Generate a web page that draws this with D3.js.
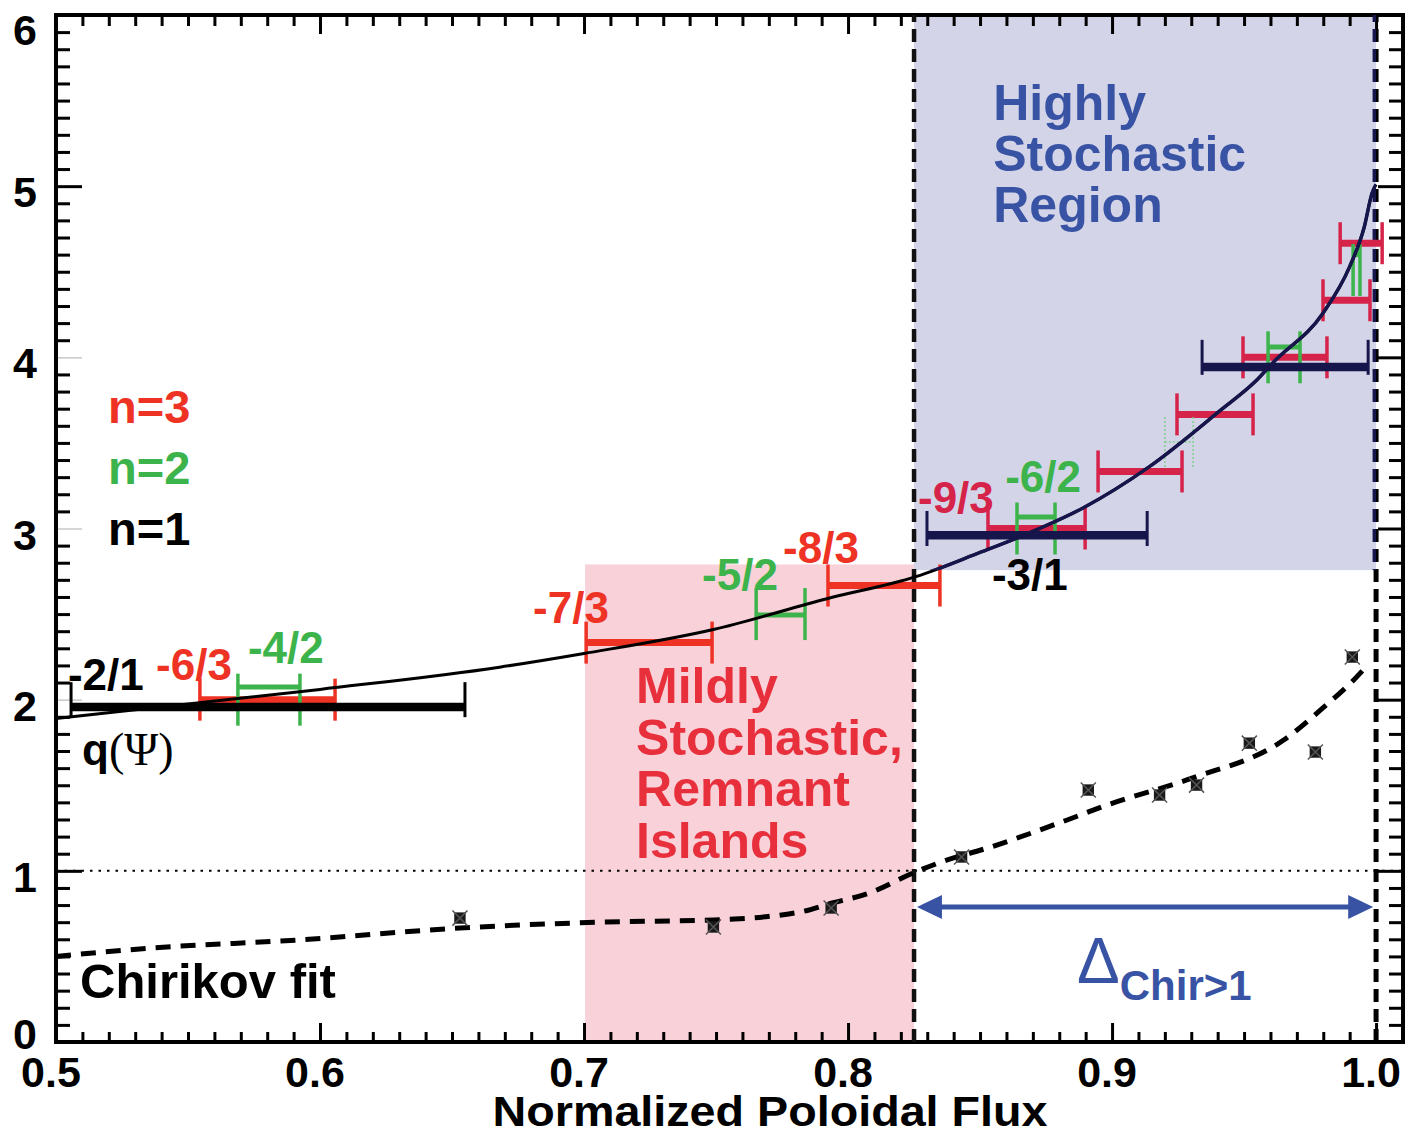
<!DOCTYPE html>
<html>
<head>
<meta charset="utf-8">
<script src="https://cdn.jsdelivr.net/npm/d3@7"></script>
<style>
  body { margin: 0; background: #fff; }
  svg { display: block; }
</style>
</head>
<body>
<svg id="chart" width="1412" height="1134"></svg>
<script>
// safety factor profile q(psi)
const qPsi = [0.50, 0.60, 0.668, 0.70, 0.749, 0.792, 0.826, 0.85, 0.868, 0.889, 0.914, 0.941, 0.955, 0.961, 0.98, 0.99, 0.9955, 0.9985, 1.0];
const qVal = [1.89, 2.06, 2.19, 2.27, 2.41, 2.59, 2.72, 2.86, 2.97, 3.12, 3.36, 3.69, 3.87, 3.97, 4.26, 4.53, 4.76, 4.96, 5.01];

// Chirikov parameter: computed points and dashed fit
const chirPsi = [0.653, 0.749, 0.7936, 0.843, 0.891, 0.918, 0.932, 0.952, 0.977, 0.991];
const chirVal = [0.724, 0.672, 0.783, 1.081, 1.472, 1.443, 1.501, 1.746, 1.694, 2.249];
const fitPsi = [0.50, 0.536, 0.592, 0.653, 0.706, 0.749, 0.782, 0.794, 0.808, 0.8246, 0.835, 0.854, 0.883, 0.898, 0.93, 0.965, 0.979, 0.994, 0.9966];
const fitVal = [0.50, 0.549, 0.596, 0.666, 0.70, 0.713, 0.76, 0.812, 0.87, 0.987, 1.05, 1.139, 1.297, 1.384, 1.54, 1.764, 1.94, 2.155, 2.20];

// island widths of resonant surfaces, n = 1
const n1Label = ["-2/1", "-3/1", "-4/1"];
const n1Q = [2, 3, 4];
const n1Bar = [1.957, 2.961, 3.943];
const n1Lo = [0.5057, 0.8299, 0.9341];
const n1Hi = [0.6549, 0.9133, 0.9970];

// n = 2
const n2Label = ["-4/2", "-5/2", "-6/2", "-7/2", "-8/2", "-9/2"];
const n2Q = [2.0, 2.5, 3.0, 3.5, 4.0, 4.51];
const n2Bar = [2.074, 2.494, 3.067, 3.505, 4.06, 4.60];
const n2Lo = [0.5689, 0.7652, 0.864, 0.920, 0.9591, 0.9913];
const n2Hi = [0.5924, 0.7837, 0.8784, 0.9307, 0.9712, 0.9939];

// n = 3
const n3Label = ["-6/3", "-7/3", "-8/3", "-9/3", "-10/3", "-11/3", "-12/3", "-13/3", "-14/3"];
const n3Q = [6/3, 7/3, 8/3, 9/3, 10/3, 11/3, 12/3, 13/3, 14/3];
const n3Lo = [0.5545, 0.7008, 0.7924, 0.853, 0.8947, 0.9246, 0.9496, 0.9799, 0.9864];
const n3Hi = [0.6057, 0.7485, 0.8348, 0.8898, 0.9265, 0.9534, 0.9814, 0.9977, 1.0023];

// where the mode labels sit (psi, q of the text baseline start)
const tagText = ["-2/1", "-6/3", "-4/2", "-7/3", "-5/2", "-8/3", "-9/3", "-6/2", "-3/1"];
const tagPsi = [0.5045, 0.5379, 0.5727, 0.6807, 0.7447, 0.7754, 0.8265, 0.8595, 0.8545];
const tagQ = [2.056, 2.114, 2.214, 2.447, 2.640, 2.798, 3.090, 3.213, 2.640];
const tagN = [1, 3, 2, 3, 2, 3, 3, 2, 1];

// regions
const mildRegion = [0.7004, 0.825, 0, 2.79];
const highRegion = [0.825, 1.0, 2.757, 6];
const arrowSpan = [0.8261, 0.9989, 0.789];

const xTicks = [0.5, 0.6, 0.7, 0.8, 0.9, 1.0];
const xTickLabels = ["0.5", "0.6", "0.7", "0.8", "0.9", "1.0"];
const yTicks = [0, 1, 2, 3, 4, 5, 6];

const red = "#ee3224", crimson = "#d5234a", green = "#3cb44b", navy = "#16164c", blue = "#3953a4";
const font = "'Liberation Sans', Arial, Helvetica, sans-serif";

let svg = d3.select("#chart");

let x = d3.scaleLinear().domain([0.5, 1.0102]).range([56, 1403]);
let y = d3.scaleLinear().domain([0, 6]).range([1042, 15]);

// shaded regions
svg.append("rect")
  .attr("x", x(mildRegion[0]))
  .attr("y", y(mildRegion[3]))
  .attr("width", x(mildRegion[1]) - x(mildRegion[0]))
  .attr("height", y(mildRegion[2]) - y(mildRegion[3]))
  .style("fill", "#f8d1d9");
svg.append("rect")
  .attr("x", x(highRegion[0]))
  .attr("y", y(highRegion[3]))
  .attr("width", x(highRegion[1]) - x(highRegion[0]))
  .attr("height", y(highRegion[2]) - y(highRegion[3]))
  .style("fill", "#d4d4e9");
svg.append("clipPath").attr("id", "highclip")
  .append("rect")
  .attr("x", x(highRegion[0]))
  .attr("y", y(highRegion[3]))
  .attr("width", x(highRegion[1]) - x(highRegion[0]))
  .attr("height", y(highRegion[2]) - y(highRegion[3]));

// ticks (inward on all four sides)
let xMinor = d3.range(50, 102).map(d => d / 100).filter(d => Math.round(d * 100) % 10 != 0);
let yMinor = d3.range(0, 61).map(d => d / 10).filter(d => Math.round(d * 10) % 10 != 0);

function tickStyle(g) {
  g.select(".domain").remove();
  g.selectAll(".tick line").style("stroke", "#000").style("stroke-width", 3);
  g.selectAll(".tick text").remove();
}
svg.append("g").attr("transform", "translate(0," + y(0) + ")")
  .call(d3.axisBottom(x).tickValues(xMinor).tickSize(-10)).call(tickStyle);
svg.append("g").attr("transform", "translate(0," + y(0) + ")")
  .call(d3.axisBottom(x).tickValues(xTicks).tickSize(-19)).call(tickStyle);
svg.append("g").attr("transform", "translate(0," + y(6) + ")")
  .call(d3.axisTop(x).tickValues(xMinor).tickSize(-11)).call(tickStyle);
svg.append("g").attr("transform", "translate(0," + y(6) + ")")
  .call(d3.axisTop(x).tickValues(xTicks).tickSize(-19)).call(tickStyle);
svg.append("g").attr("transform", "translate(" + x(0.5) + ",0)")
  .call(d3.axisLeft(y).tickValues(yMinor).tickSize(-14)).call(tickStyle);
svg.append("g").attr("transform", "translate(" + x(0.5) + ",0)")
  .call(d3.axisLeft(y).tickValues(yTicks).tickSize(-26)).call(tickStyle)
  .selectAll(".tick line")
  .style("stroke", d => (d >= 2 && d <= 4) ? "#c8c8c8" : "#000")
  .style("stroke-width", d => (d >= 2 && d <= 4) ? 1.5 : 3);
svg.append("g").attr("transform", "translate(" + x(1.0102) + ",0)")
  .call(d3.axisRight(y).tickValues(yMinor).tickSize(-14)).call(tickStyle);
svg.append("g").attr("transform", "translate(" + x(1.0102) + ",0)")
  .call(d3.axisRight(y).tickValues(yTicks).tickSize(-25)).call(tickStyle);

// frame
svg.append("rect")
  .attr("x", x(0.5))
  .attr("y", y(6))
  .attr("width", x(1.0102) - x(0.5))
  .attr("height", y(0) - y(6))
  .style("fill", "none")
  .style("stroke", "#000")
  .style("stroke-width", 4);

// tick labels
svg.selectAll(".xlab")
  .data(xTicks)
  .enter()
  .append("text")
  .attr("x", d => x(d) - 5)
  .attr("y", 1087)
  .attr("text-anchor", "middle")
  .text((d, i) => xTickLabels[i])
  .style("font-family", font)
  .style("font-weight", "bold")
  .style("font-size", 43);
svg.selectAll(".ylab")
  .data(yTicks)
  .enter()
  .append("text")
  .attr("x", 25)
  .attr("y", d => d == 0 ? 1049 : d == 6 ? 45 : y(d) + 21)
  .attr("text-anchor", "middle")
  .text(d => d)
  .style("font-family", font)
  .style("font-weight", "bold")
  .style("font-size", 43);
svg.append("text")
  .attr("x", 770)
  .attr("y", 1126)
  .attr("text-anchor", "middle")
  .attr("textLength", 555)
  .attr("lengthAdjust", "spacingAndGlyphs")
  .text("Normalized Poloidal Flux")
  .style("font-family", font)
  .style("font-weight", "bold")
  .style("font-size", 42);

// chirikov = 1 reference
svg.append("line")
  .attr("x1", x(0.5)).attr("x2", x(1.0102))
  .attr("y1", y(1)).attr("y2", y(1))
  .style("stroke", "#000")
  .style("stroke-width", 2)
  .style("stroke-dasharray", "2.5,6");

// region boundaries
svg.append("line")
  .attr("x1", x(highRegion[0])).attr("x2", x(highRegion[0]))
  .attr("y1", y(0)).attr("y2", y(6))
  .style("stroke", "#111")
  .style("stroke-width", 4.5)
  .style("stroke-dasharray", "13,7");
svg.append("line")
  .attr("x1", x(highRegion[1])).attr("x2", x(highRegion[1]))
  .attr("y1", y(0)).attr("y2", y(6))
  .style("stroke", "#000")
  .style("stroke-width", 5)
  .style("stroke-dasharray", "13,7");
svg.append("line")
  .attr("x1", x(highRegion[1])).attr("x2", x(highRegion[1]))
  .attr("y1", y(0)).attr("y2", y(6))
  .attr("clip-path", "url(#highclip)")
  .style("stroke", navy)
  .style("stroke-width", 7)
  .style("stroke-dasharray", "13,7");

// chirikov fit and points
let fitLine = d3.line()
  .x(i => x(fitPsi[i]))
  .y(i => y(fitVal[i]))
  .curve(d3.curveMonotoneX);
svg.append("path")
  .attr("d", fitLine(d3.range(fitPsi.length)))
  .style("fill", "none")
  .style("stroke", "#000")
  .style("stroke-width", 5)
  .style("stroke-dasharray", "15,10");
let marks = svg.selectAll(".chir")
  .data(d3.range(chirPsi.length))
  .enter()
  .append("g")
  .attr("transform", i => "translate(" + x(chirPsi[i]) + "," + y(chirVal[i]) + ")");
marks.append("path")
  .attr("d", d3.symbol(d3.symbolSquare, 130))
  .style("fill", "#1a1a1a");
marks.append("path")
  .attr("d", d3.symbol(d3.symbolTimes, 150))
  .style("fill", "none")
  .style("stroke", "#555")
  .style("stroke-width", 1.5);

// island width bars
function inHigh(lo, q) {
  return lo >= highRegion[0] && q >= highRegion[2];
}
function drawBars(lo, hi, qCap, qBar, colour, alt, barW, capW, capH) {
  let g = svg.append("g");
  d3.range(lo.length).forEach(i => {
    let c = inHigh(lo[i], qCap[i]) ? alt : colour;
    let thin = (colour == green && Math.abs(qCap[i] - 3.5) < 0.01);
    g.append("line")
      .attr("x1", x(lo[i])).attr("x2", x(hi[i]))
      .attr("y1", y(qBar[i])).attr("y2", y(qBar[i]))
      .style("stroke", thin ? "#7fd08a" : c)
      .style("stroke-width", thin ? 1.5 : barW)
      .style("stroke-dasharray", thin ? "2,2" : null);
    [lo[i], hi[i]].forEach(v => {
      g.append("line")
        .attr("x1", x(v)).attr("x2", x(v))
        .attr("y1", y(qCap[i]) - capH).attr("y2", y(qCap[i]) + capH)
        .style("stroke", thin ? "#7fd08a" : c)
        .style("stroke-width", thin ? 1.5 : capW)
        .style("stroke-dasharray", thin ? "2,2" : null);
    });
  });
}
drawBars(n3Lo, n3Hi, n3Q, n3Q, red, crimson, 7, 3.5, 21);
drawBars(n2Lo, n2Hi, n2Q, n2Bar, green, green, 5, 3.5, 26);
drawBars(n1Lo, n1Hi, n1Q, n1Bar, "#000", navy, 8.5, 3, 17.5);

// q profile
let qLine = d3.line()
  .x(i => x(qPsi[i]))
  .y(i => y(qVal[i]))
  .curve(d3.curveMonotoneX);
svg.append("path")
  .attr("d", qLine(d3.range(qPsi.length)))
  .style("fill", "none")
  .style("stroke", "#000")
  .style("stroke-width", 3);
svg.append("path")
  .attr("d", qLine(d3.range(qPsi.length)))
  .attr("clip-path", "url(#highclip)")
  .style("fill", "none")
  .style("stroke", navy)
  .style("stroke-width", 3.5);

// mode labels
svg.selectAll(".tag")
  .data(d3.range(tagText.length))
  .enter()
  .append("text")
  .attr("x", i => x(tagPsi[i]))
  .attr("y", i => y(tagQ[i]))
  .text(i => tagText[i])
  .style("fill", i => tagN[i] == 2 ? green : tagN[i] == 3 ? (inHigh(tagPsi[i], tagQ[i]) ? crimson : red) : "#000")
  .style("font-family", font)
  .style("font-weight", "bold")
  .style("font-size", 44);

// legend
[["n=3", red], ["n=2", green], ["n=1", "#000"]].forEach((d, i) => {
  svg.append("text")
    .attr("x", 108)
    .attr("y", 423 + i * 61)
    .text(d[0])
    .style("fill", d[1])
    .style("font-family", font)
    .style("font-weight", "bold")
    .style("font-size", 47);
});

// region captions
["Highly", "Stochastic", "Region"].forEach((t, i) => {
  svg.append("text")
    .attr("x", x(0.855))
    .attr("y", 120 + i * 51)
    .text(t)
    .style("fill", blue)
    .style("font-family", font)
    .style("font-weight", "bold")
    .style("font-size", 50);
});
["Mildly", "Stochastic,", "Remnant", "Islands"].forEach((t, i) => {
  svg.append("text")
    .attr("x", x(0.7197))
    .attr("y", 703 + i * 51.7)
    .text(t)
    .style("fill", "#e8303d")
    .style("font-family", font)
    .style("font-weight", "bold")
    .style("font-size", 50);
});

// curve names
let qName = svg.append("text")
  .attr("x", 82)
  .attr("y", 765)
  .style("font-family", font)
  .style("font-weight", "bold")
  .style("font-size", 44);
qName.append("tspan").text("q");
qName.append("tspan").text("(Ψ)")
  .style("font-family", "'Liberation Serif', 'Times New Roman', serif")
  .style("font-weight", "normal")
  .style("font-size", 46);
svg.append("text")
  .attr("x", 80)
  .attr("y", 998)
  .text("Chirikov fit")
  .style("font-family", font)
  .style("font-weight", "bold")
  .style("font-size", 49);

// width of the Chirikov > 1 zone
let ay = y(arrowSpan[2]);
let ax0 = x(arrowSpan[0]), ax1 = x(arrowSpan[1]);
svg.append("line")
  .attr("x1", ax0 + 20).attr("x2", ax1 - 20)
  .attr("y1", ay).attr("y2", ay)
  .style("stroke", blue)
  .style("stroke-width", 5);
svg.append("path")
  .attr("d", "M" + ax0 + "," + ay + "L" + (ax0 + 25) + "," + (ay - 12) + "L" + (ax0 + 25) + "," + (ay + 12) + "Z")
  .style("fill", blue);
svg.append("path")
  .attr("d", "M" + ax1 + "," + ay + "L" + (ax1 - 25) + "," + (ay - 12) + "L" + (ax1 - 25) + "," + (ay + 12) + "Z")
  .style("fill", blue);
let delta = svg.append("text")
  .attr("x", 1077)
  .attr("y", 983)
  .style("fill", blue)
  .style("font-family", font);
delta.append("tspan").text("Δ").style("font-size", 64);
delta.append("tspan").text("Chir>1")
  .attr("dy", 17)
  .style("font-weight", "bold")
  .style("font-size", 42);
</script>
</body>
</html>
